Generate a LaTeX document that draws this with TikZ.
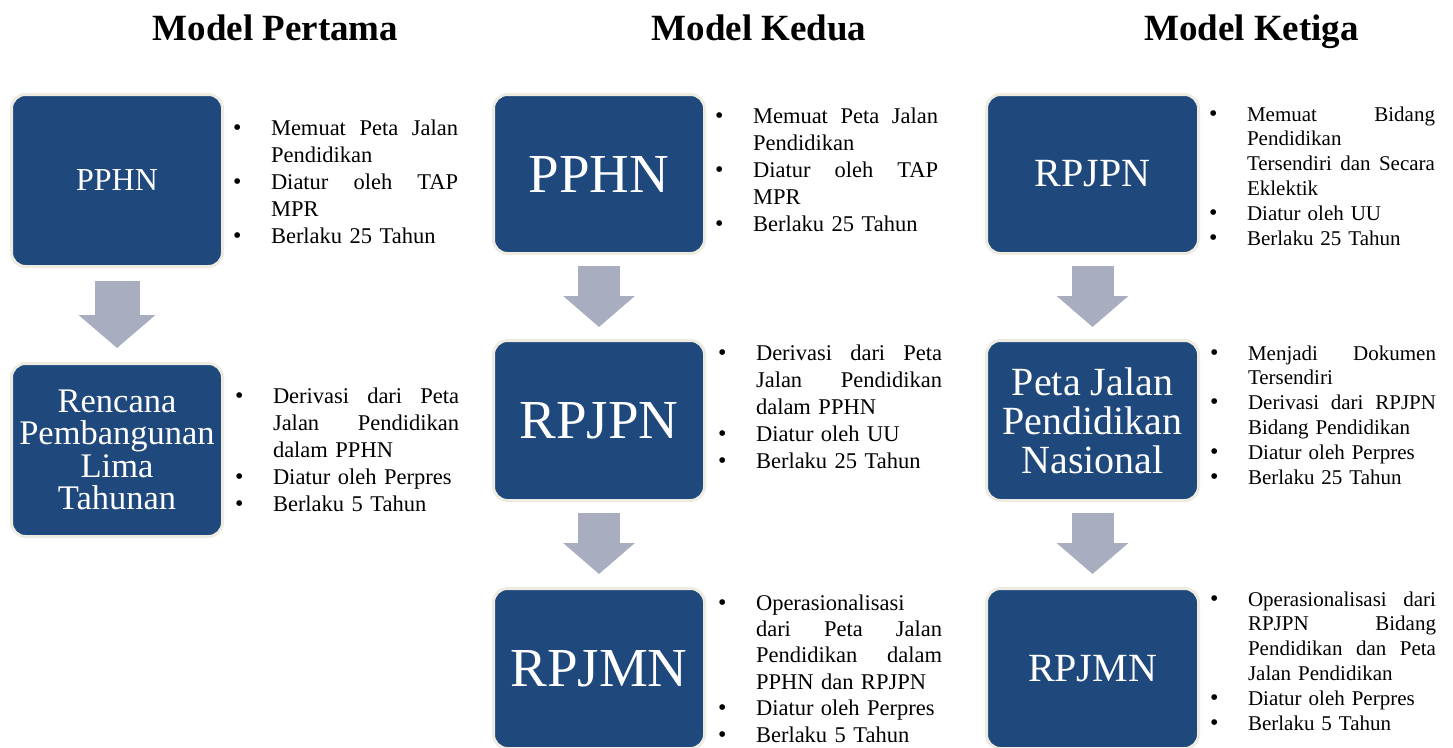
\documentclass[tikz,border=0pt]{standalone}
\usepackage{fontspec}
\setmainfont{Liberation Serif}
\usetikzlibrary{arrows.meta}
\definecolor{boxblue}{HTML}{1F487C}
\definecolor{boxrim}{HTML}{EEECE1}
\definecolor{arrowgray}{HTML}{A8AEC0}
\setlength\parindent{0pt}
\setlength\parskip{0pt}
\newlength\tw
\newcommand\J[1]{{\spaceskip=0pt\xspaceskip=0pt\makebox[\tw][s]{#1}}}
\newcommand\B{\leavevmode\llap{\makebox[38pt][l]{\raisebox{0pt}{\fontsize{24}{24}\selectfont\textbullet}}}}
\newcommand\T{\rule{0pt}{20pt}}
\tikzset{
  bluebox/.style={rectangle, rounded corners=14pt, fill=boxblue, draw=boxrim,
    line width=3pt, inner sep=0pt, text=white, align=center},
  barrow/.style={draw=arrowgray, line width=42pt,
    -{Triangle[width=70pt,length=31pt]}},
  barrowwide/.style={draw=arrowgray, line width=45pt,
    -{Triangle[width=75pt,length=33pt]}},
  title/.style={anchor=base, font=\fontsize{37}{40}\selectfont\bfseries},
  textblk/.style={anchor=north west, inner sep=0pt, outer sep=0pt,
    text width=#1, align=left},
  bigfont/.style={font=\fontsize{22.5}{27}\selectfont},
  tightfont/.style={font=\fontsize{22.5}{26.4}\selectfont},
  smallfont/.style={font=\fontsize{21}{24.8}\selectfont},
}
\begin{document}
\begin{tikzpicture}[x=1pt,y=-1pt]
\useasboundingbox (0,0) rectangle (1453,747);
\fill[white] (0,0) rectangle (1453,747);

% titles
\node[title] (t1) at (275.5,40) {Model Pertama};
\node[title] (t2) at (759,40) {Model Kedua};
\node[title] (t3) at (1251.5,40) {Model Ketiga};

% column 1 boxes
\node[bluebox, minimum width=211pt, minimum height=172pt,
  font=\fontsize{32}{36}\selectfont] (a1) at (117,180.5) {PPHN};
\node[bluebox, minimum width=211pt, minimum height=173pt,
  font=\fontsize{34.5}{32.5}\selectfont] (a2) at (117,450)
  {Rencana\\Pembangunan\\Lima\\Tahunan};

% column 2 boxes
\node[bluebox, minimum width=211pt, minimum height=159pt,
  font=\fontsize{55}{60}\selectfont] (b1) at (599,174) {PPHN};
\node[bluebox, minimum width=211pt, minimum height=160pt,
  font=\fontsize{55}{60}\selectfont] (b2) at (599,420.5) {RPJPN};
\node[bluebox, minimum width=211pt, minimum height=160pt,
  font=\fontsize{55}{60}\selectfont] (b3) at (599,668.5) {RPJMN};

% column 3 boxes
\node[bluebox, minimum width=212pt, minimum height=159pt,
  font=\fontsize{40}{44}\selectfont] (c1) at (1092.5,174) {RPJPN};
\node[bluebox, minimum width=212pt, minimum height=160pt,
  font=\fontsize{40}{39}\selectfont] (c2) at (1092.5,420.5)
  {Peta Jalan\\Pendidikan\\Nasional};
\node[bluebox, minimum width=212pt, minimum height=160pt,
  font=\fontsize{40}{44}\selectfont] (c3) at (1092.5,668.5) {RPJMN};

% block arrows
\draw[barrowwide, shorten <=13pt, shorten >=14pt] (a1.south) -- (a2.north);
\draw[barrow, shorten <=11pt, shorten >=12pt] (b1.south) -- (b2.north);
\draw[barrow, shorten <=11pt, shorten >=13pt] (b2.south) -- (b3.north);
\draw[barrow, shorten <=11pt, shorten >=12pt] (c1.south) -- (c2.north);
\draw[barrow, shorten <=11pt, shorten >=13pt] (c2.south) -- (c3.north);

% column 1 texts
\node[textblk=187pt, bigfont] (ta1) at (271,115) {\setlength\tw{187pt}%
\B\T\J{Memuat Peta Jalan}\\
Pendidikan\\
\B\J{Diatur oleh TAP}\\
MPR\\
\B Berlaku 25 Tahun};
\node[textblk=186pt, bigfont] (ta2) at (273,383) {\setlength\tw{186pt}%
\B\T\J{Derivasi dari Peta}\\
\J{Jalan Pendidikan}\\
dalam PPHN\\
\B Diatur oleh Perpres\\
\B Berlaku 5 Tahun};

% column 2 texts
\node[textblk=185pt, bigfont] (tb1) at (753,103) {\setlength\tw{185pt}%
\B\T\J{Memuat Peta Jalan}\\
Pendidikan\\
\B\J{Diatur oleh TAP}\\
MPR\\
\B Berlaku 25 Tahun};
\node[textblk=186pt, bigfont] (tb2) at (756,340) {\setlength\tw{186pt}%
\B\T\J{Derivasi dari Peta}\\
\J{Jalan Pendidikan}\\
dalam PPHN\\
\B Diatur oleh UU\\
\B Berlaku 25 Tahun};
\node[textblk=186pt, tightfont] (tb3) at (756,590) {\setlength\tw{186pt}%
\B\T Operasionalisasi\\
\J{dari Peta Jalan}\\
\J{Pendidikan dalam}\\
PPHN dan RPJPN\\
\B Diatur oleh Perpres\\
\B Berlaku 5 Tahun};

% column 3 texts
\node[textblk=188pt, smallfont] (tc1) at (1247,101) {\setlength\tw{188pt}%
\B\T\J{Memuat Bidang}\\
Pendidikan\\
\J{Tersendiri dan Secara}\\
Eklektik\\
\B Diatur oleh UU\\
\B Berlaku 25 Tahun};
\node[textblk=188pt, smallfont] (tc2) at (1248,340) {\setlength\tw{188pt}%
\B\T\J{Menjadi Dokumen}\\
Tersendiri\\
\B\J{Derivasi dari RPJPN}\\
Bidang Pendidikan\\
\B Diatur oleh Perpres\\
\B Berlaku 25 Tahun};
\node[textblk=188pt, smallfont] (tc3) at (1248,586) {\setlength\tw{188pt}%
\B\T\J{Operasionalisasi dari}\\
\J{RPJPN Bidang}\\
\J{Pendidikan dan Peta}\\
Jalan Pendidikan\\
\B Diatur oleh Perpres\\
\B Berlaku 5 Tahun};
\end{tikzpicture}
\end{document}
